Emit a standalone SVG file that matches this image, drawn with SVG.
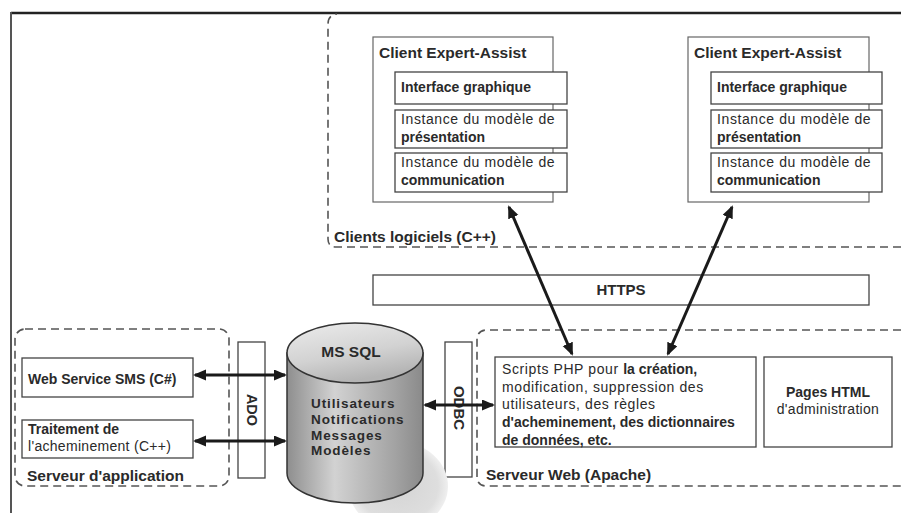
<svg xmlns="http://www.w3.org/2000/svg" width="901" height="513" viewBox="0 0 901 513">
<style>
  text { font-family: "Liberation Sans", Arial, sans-serif; fill: #2a2a2a; }
  .t { font-size: 15.5px; font-weight: bold; }
  .b { font-size: 14px; font-weight: bold; }
  .n { font-size: 14px; font-weight: normal; letter-spacing: 0.6px; }
  .db { font-size: 13.5px; font-weight: bold; letter-spacing: 0.9px; }
  .box { fill: #fff; stroke: #444; stroke-width: 1.3; }
  .outer { fill: #fff; stroke: #666; stroke-width: 1.2; }
  .dash { fill: none; stroke: #555; stroke-width: 1.6; stroke-dasharray: 8 5; }
  .arrow { stroke: #1a1a1a; stroke-width: 3; fill: none; marker-start: url(#ah); marker-end: url(#ah); }
</style>
<defs>
  <marker id="ah" markerUnits="userSpaceOnUse" markerWidth="14" markerHeight="12" refX="11" refY="5.5" orient="auto-start-reverse">
    <path d="M0,0 L13,5.5 L0,11 z" fill="#1a1a1a"/>
  </marker>
  <linearGradient id="body" x1="0" y1="0" x2="1" y2="0">
    <stop offset="0" stop-color="#8e8e8e"/>
    <stop offset="0.35" stop-color="#d2d2d2"/>
    <stop offset="0.8" stop-color="#a2a2a2"/>
    <stop offset="1" stop-color="#8a8a8a"/>
  </linearGradient>
  <linearGradient id="cap" x1="0" y1="0" x2="0.4" y2="1">
    <stop offset="0" stop-color="#ececec"/>
    <stop offset="0.6" stop-color="#d2d2d2"/>
    <stop offset="1" stop-color="#b4b4b4"/>
  </linearGradient>
  <radialGradient id="shadow" cx="0.5" cy="0.5" r="0.5">
    <stop offset="0" stop-color="#d4d4d4"/>
    <stop offset="0.8" stop-color="#dedede"/>
    <stop offset="1" stop-color="#efefef"/>
  </radialGradient>
</defs>

<rect width="901" height="513" fill="#fff"/>

<!-- frame -->
<g id="frame">
  <line x1="11" y1="13" x2="901" y2="13" stroke="#222" stroke-width="2.5"/>
  <line x1="11" y1="12" x2="11" y2="513" stroke="#555" stroke-width="2"/>
</g>

<!-- regions -->
<g id="clients-logiciels">
  <path class="dash" d="M901,247 H336 Q328,247 328,239 V24 Q328,15 337,14"/>
  <text class="t" x="334" y="242">Clients logiciels (C++)</text>
</g>
<g id="serveur-application">
  <rect class="dash" x="15" y="329" width="214" height="157" rx="10"/>
  <text class="t" x="27" y="481">Serveur d'application</text>
</g>
<g id="serveur-web">
  <path class="dash" d="M901,330 H487 Q477,330 477,340 V476 Q477,486 487,486 H901"/>
  <text class="t" x="486" y="480">Serveur Web (Apache)</text>
</g>

<!-- clients -->
<g id="client1">
  <rect class="outer" x="373" y="37" width="180" height="165"/>
  <text class="t" x="379" y="58">Client Expert-Assist</text>
  <rect class="box" x="395" y="72" width="172" height="32"/>
  <text class="b" x="401" y="92">Interface graphique</text>
  <rect class="box" x="395" y="110" width="172" height="38"/>
  <text class="n" x="401" y="124">Instance du modèle de</text>
  <text class="b" x="401" y="142">présentation</text>
  <rect class="box" x="395" y="153" width="172" height="39"/>
  <text class="n" x="401" y="167">Instance du modèle de</text>
  <text class="b" x="401" y="185">communication</text>
</g>
<g id="client2">
  <rect class="outer" x="688" y="37" width="181" height="165"/>
  <text class="t" x="694" y="58">Client Expert-Assist</text>
  <rect class="box" x="711" y="72" width="171" height="32"/>
  <text class="b" x="717" y="92">Interface graphique</text>
  <rect class="box" x="711" y="110" width="171" height="38"/>
  <text class="n" x="717" y="124">Instance du modèle de</text>
  <text class="b" x="717" y="142">présentation</text>
  <rect class="box" x="711" y="153" width="171" height="39"/>
  <text class="n" x="717" y="167">Instance du modèle de</text>
  <text class="b" x="717" y="185">communication</text>
</g>

<g id="https">
  <rect class="box" x="373" y="275" width="496" height="30"/>
  <text class="t" x="621" y="295" text-anchor="middle" style="font-size:15px">HTTPS</text>
</g>

<g id="scripts-php">
  <rect class="box" x="495" y="357" width="261" height="90"/>
  <text x="502" y="374"><tspan class="n">Scripts PHP  pour </tspan><tspan class="b">la création,</tspan></text>
  <text class="n" x="502" y="392">modification, suppression des</text>
  <text class="n" x="502" y="409">utilisateurs, des règles</text>
  <text class="b" x="502" y="427">d'acheminement, des dictionnaires</text>
  <text class="b" x="502" y="445">de données, etc.</text>
</g>
<g id="pages-html">
  <rect class="box" x="764" y="357" width="128" height="90"/>
  <text class="b" x="828" y="397" text-anchor="middle">Pages HTML</text>
  <text class="n" x="828" y="414" text-anchor="middle" style="letter-spacing:0.3px">d'administration</text>
</g>

<g id="web-service-sms">
  <rect class="box" x="22" y="358" width="171" height="39"/>
  <text class="b" x="28" y="384">Web Service SMS (C#)</text>
</g>
<g id="traitement">
  <rect class="box" x="22" y="420" width="171" height="38"/>
  <text class="b" x="28" y="434">Traitement de</text>
  <text class="n" x="28" y="451" style="letter-spacing:0.3px">l'acheminement (C++)</text>
</g>

<g id="ado">
  <rect class="box" x="238" y="342" width="27" height="136"/>
  <text class="b" transform="translate(251.5,410) rotate(90)" x="0" y="5" text-anchor="middle" style="font-size:14.5px">ADO</text>
</g>
<g id="odbc">
  <rect class="box" x="445" y="342" width="27" height="135"/>
  <text class="b" transform="translate(458.5,408) rotate(90)" x="0" y="5" text-anchor="middle" style="font-size:15px">ODBC</text>
</g>

<g id="ms-sql">
  <ellipse cx="398" cy="486" rx="50" ry="44" fill="url(#shadow)"/>
  <path d="M287,353 V473 A68,30 0 0 0 423,473 V353 Z" fill="url(#body)" stroke="#333" stroke-width="1.5"/>
  <ellipse cx="355" cy="353" rx="68" ry="30" fill="url(#cap)" stroke="#333" stroke-width="1.5"/>
  <text class="t" x="351" y="357" text-anchor="middle">MS SQL</text>
  <text class="db" x="311" y="408">Utilisateurs</text>
  <text class="db" x="311" y="424">Notifications</text>
  <text class="db" x="311" y="439.5">Messages</text>
  <text class="db" x="311" y="455">Modèles</text>
</g>

<g id="connectors">
  <line class="arrow" x1="195" y1="375" x2="285" y2="375"/>
  <line class="arrow" x1="195" y1="441" x2="285" y2="441"/>
  <line class="arrow" x1="425" y1="405" x2="493" y2="405"/>
  <line class="arrow" x1="509" y1="207" x2="572" y2="354"/>
  <line class="arrow" x1="732" y1="207" x2="668" y2="354"/>
</g>
</svg>
